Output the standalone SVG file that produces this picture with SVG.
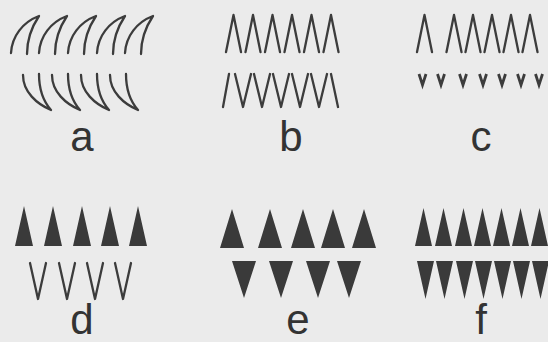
<svg xmlns="http://www.w3.org/2000/svg" width="548" height="342" viewBox="0 0 548 342">
<style>
.ln{fill:none;stroke:#3c3c3c;stroke-width:2.3;stroke-linecap:round;stroke-linejoin:round}
.th{fill:none;stroke:#3c3c3c;stroke-width:2.8;stroke-linecap:butt;stroke-linejoin:miter}
.tri{fill:#3a3a3a;stroke:none}
.lbl{font-family:"Liberation Sans",Arial,sans-serif;font-size:42px;fill:#333;text-anchor:middle}
</style>
<rect width="548" height="342" fill="#ebebeb"/>
<g id="panel-a">
<path class="ln" d="M11,53 C12,36 23,22 39,16 C31,28 27,40 27,54"/>
<path class="ln" d="M39,53 C40,36 51,22 67,16 C59,28 55,40 55,54"/>
<path class="ln" d="M68,53 C69,36 80,22 96,16 C88,28 84,40 84,54"/>
<path class="ln" d="M97,53 C98,36 109,22 125,16 C117,28 113,40 113,54"/>
<path class="ln" d="M125,53 C126,36 137,22 153,16 C145,28 141,40 141,54"/>
<path class="ln" d="M23,75 C23,92 37,104 51,110 M39,74 C39,90 43,101 51,110"/>
<path class="ln" d="M52,75 C52,92 66,104 80,110 M68,74 C68,90 72,101 80,110"/>
<path class="ln" d="M81,75 C81,92 95,104 109,110 M97,74 C97,90 101,101 109,110"/>
<path class="ln" d="M110,75 C110,92 124,104 138,110 M126,74 C126,90 130,101 138,110"/>
<text class="lbl" x="82" y="151">a</text>
</g>
<g id="panel-b">
<path class="ln" d="M226,52 L233.5,15 L241,52 M245.5,52 L253,15 L260.5,52 M265,52 L272.5,15 L280,52 M284.5,52 L292,15 L299.5,52 M304,52 L311.5,15 L319,52 M323.5,52 L331,15 L338.5,52"/>
<path class="ln" d="M223,107 L229,74 M235,74 L243,107 L251,74 M254,74 L262,107 L270,74 M273,74 L281,107 L289,74 M292,74 L300,107 L308,74 M311,74 L319,107 L327,74 M331,74 L338,107"/>
<text class="lbl" x="291" y="151">b</text>
</g>
<g id="panel-c">
<path class="ln" d="M417,52 L424.5,15 L432,52 M446.5,52 L454,15 L461.5,52 M465.5,52 L473,15 L480.5,52 M484.5,52 L492,15 L499.5,52 M503.5,52 L511,15 L518.5,52 M522.5,52 L530,15 L537.5,52"/>
<path class="th" d="M419,74 L422.5,85 L426,74 M437.5,74 L441,85 L444.5,74 M459.5,74 L463,85 L466.5,74 M479.5,74 L483,85 L486.5,74 M498.5,74 L502,85 L505.5,74 M517.5,74 L521,85 L524.5,74 M535.5,74 L539,85 L542.5,74"/>
<text class="lbl" x="481" y="151">c</text>
</g>
<g id="panel-d">
<path class="tri" d="M15,246 L24,206 L33,246 Z M44,246 L53,206 L62,246 Z M73,246 L82,206 L91,246 Z M101,246 L110,206 L119,246 Z M129,246 L138,206 L147,246 Z"/>
<path class="ln" d="M30,263 L38,299 L46,263 M59,263 L67,299 L75,263 M87,263 L95,299 L103,263 M115,263 L123,299 L131,263"/>
<text class="lbl" x="82" y="334">d</text>
</g>
<g id="panel-e">
<path class="tri" d="M220,248 L232,209 L244,248 Z M258,248 L270,209 L282,248 Z M291,248 L303,209 L315,248 Z M321,248 L333,209 L345,248 Z M352,248 L364,209 L376,248 Z"/>
<path class="tri" d="M232,261 L256,261 L244,298 Z M269,261 L293,261 L281,298 Z M306,261 L330,261 L318,298 Z M337,261 L361,261 L349,298 Z"/>
<text class="lbl" x="298" y="334">e</text>
</g>
<g id="panel-f">
<path class="tri" d="M415,246 L423.5,208 L432,246 Z M435,246 L443.5,208 L452,246 Z M455,246 L463.5,208 L472,246 Z M474,246 L482.5,208 L491,246 Z M493,246 L501.5,208 L510,246 Z M512,246 L520.5,208 L529,246 Z M531,246 L539.5,208 L548,246 Z"/>
<path class="tri" d="M417,261 L434,261 L425.5,299 Z M436,261 L453,261 L444.5,299 Z M456,261 L473,261 L464.5,299 Z M475,261 L492,261 L483.5,299 Z M494,261 L511,261 L502.5,299 Z M513,261 L530,261 L521.5,299 Z M532,261 L549,261 L540.5,299 Z"/>
<text class="lbl" x="481" y="334">f</text>
</g>
</svg>
